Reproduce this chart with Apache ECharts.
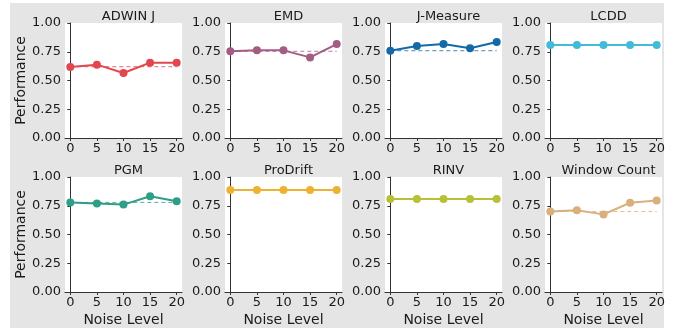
<!DOCTYPE html>
<html>
<head>
<meta charset="utf-8">
<script src="https://cdn.jsdelivr.net/npm/echarts@6/dist/echarts.min.js"></script>
<style>
  html, body { margin: 0; padding: 0; background: #fff; }
  #main { width: 674px; height: 331px; }
</style>
</head>
<body>
<div id="main"></div>
<script>
// noise levels on the x axis
const noiseLevels = [0, 5, 10, 15, 20];
const yTicks = [0, 0.25, 0.5, 0.75, 1];

const methods = ['ADWIN J', 'EMD', 'J-Measure', 'LCDD', 'PGM', 'ProDrift', 'RINV', 'Window Count'];
const colors = ['#e2474e', '#a35c82', '#136aa6', '#42bcd6', '#2e9e88', '#eeb232', '#b8c136', '#d9b07b'];

// performance per noise level
const adwinJ = [0.617, 0.638, 0.565, 0.655, 0.655];
const emd = [0.754, 0.762, 0.762, 0.701, 0.817];
const jMeasure = [0.759, 0.800, 0.817, 0.780, 0.835];
const lcdd = [0.809, 0.809, 0.809, 0.809, 0.809];
const pgm = [0.779, 0.770, 0.760, 0.833, 0.790];
const proDrift = [0.888, 0.888, 0.888, 0.888, 0.888];
const rinv = [0.808, 0.808, 0.808, 0.808, 0.808];
const windowCount = [0.701, 0.710, 0.675, 0.776, 0.796];

// dashed reference = value at noise 0
const baselines = [0.62, 0.754, 0.759, 0.809, 0.779, 0.888, 0.808, 0.70];

const allValues = [adwinJ, emd, jMeasure, lcdd, pgm, proDrift, rinv, windowCount];

const chart = echarts.init(document.getElementById('main'));

const lefts = [65, 225, 385, 545];
const tops = [23, 177];
const font = 'DejaVu Sans';

let grids = [], xAxes = [], yAxes = [], series = [], titles = [], graphics = [];

methods.forEach((name, i) => {
    const row = Math.floor(i / 4), col = i % 4;
    grids.push({ left: lefts[col], top: tops[row], width: 117, height: 115 });
    titles.push({
        text: name,
        left: lefts[col] + 58.5,
        top: tops[row] - 18,
        textAlign: 'center',
        textStyle: { fontFamily: font, fontSize: 13, fontWeight: 'normal', color: '#1a1a1a' }
    });
    xAxes.push({
        gridIndex: i,
        type: 'value',
        min: -1,
        max: 21,
        name: row === 1 ? 'Noise Level' : '',
        nameLocation: 'middle',
        nameGap: 21,
        nameTextStyle: { fontFamily: font, fontSize: 14, color: '#1a1a1a' },
        axisLine: { show: true, lineStyle: { color: '#333', width: 1 } },
        axisTick: { show: true, length: 3, customValues: noiseLevels, lineStyle: { color: '#333' } },
        axisLabel: { customValues: noiseLevels, fontFamily: font, fontSize: 13, color: '#1a1a1a', margin: 4 },
        splitLine: { show: false }
    });
    yAxes.push({
        gridIndex: i,
        type: 'value',
        min: 0,
        max: 1,
        interval: 0.25,
        name: col === 0 ? 'Performance' : '',
        nameLocation: 'middle',
        nameGap: 36,
        nameTextStyle: { fontFamily: font, fontSize: 14, color: '#1a1a1a' },
        axisLine: { show: true, lineStyle: { color: '#333', width: 1 } },
        axisTick: { show: true, length: 3, lineStyle: { color: '#333' } },
        axisLabel: {
            fontFamily: font, fontSize: 13, color: '#1a1a1a', margin: 4,
            formatter: v => v.toFixed(2)
        },
        splitLine: { show: false }
    });
    series.push({
        type: 'line',
        xAxisIndex: i,
        yAxisIndex: i,
        data: [[noiseLevels[0], baselines[i]], [noiseLevels[noiseLevels.length - 1], baselines[i]]],
        symbol: 'none',
        lineStyle: { color: colors[i], width: 1, type: [4, 3], opacity: 0.8 },
        silent: true,
        z: 1
    });
    series.push({
        type: 'line',
        xAxisIndex: i,
        yAxisIndex: i,
        data: noiseLevels.map((x, k) => [x, allValues[i][k]]),
        symbol: 'circle',
        symbolSize: 8,
        itemStyle: { color: colors[i] },
        lineStyle: { color: colors[i], width: 2 },
        z: 3
    });
    graphics.push({
        type: 'rect',
        shape: { x: lefts[col], y: tops[row], width: 117, height: 115 },
        style: { fill: '#fff' },
        z: -1
    });
});

chart.setOption({
    backgroundColor: '#fff',
    animation: false,
    graphic: [{
        type: 'rect',
        shape: { x: 10, y: 3, width: 654, height: 325 },
        style: { fill: '#e5e5e5' },
        z: -2
    }].concat(graphics),
    title: titles,
    grid: grids,
    xAxis: xAxes,
    yAxis: yAxes,
    series: series
});
</script>
</body>
</html>
